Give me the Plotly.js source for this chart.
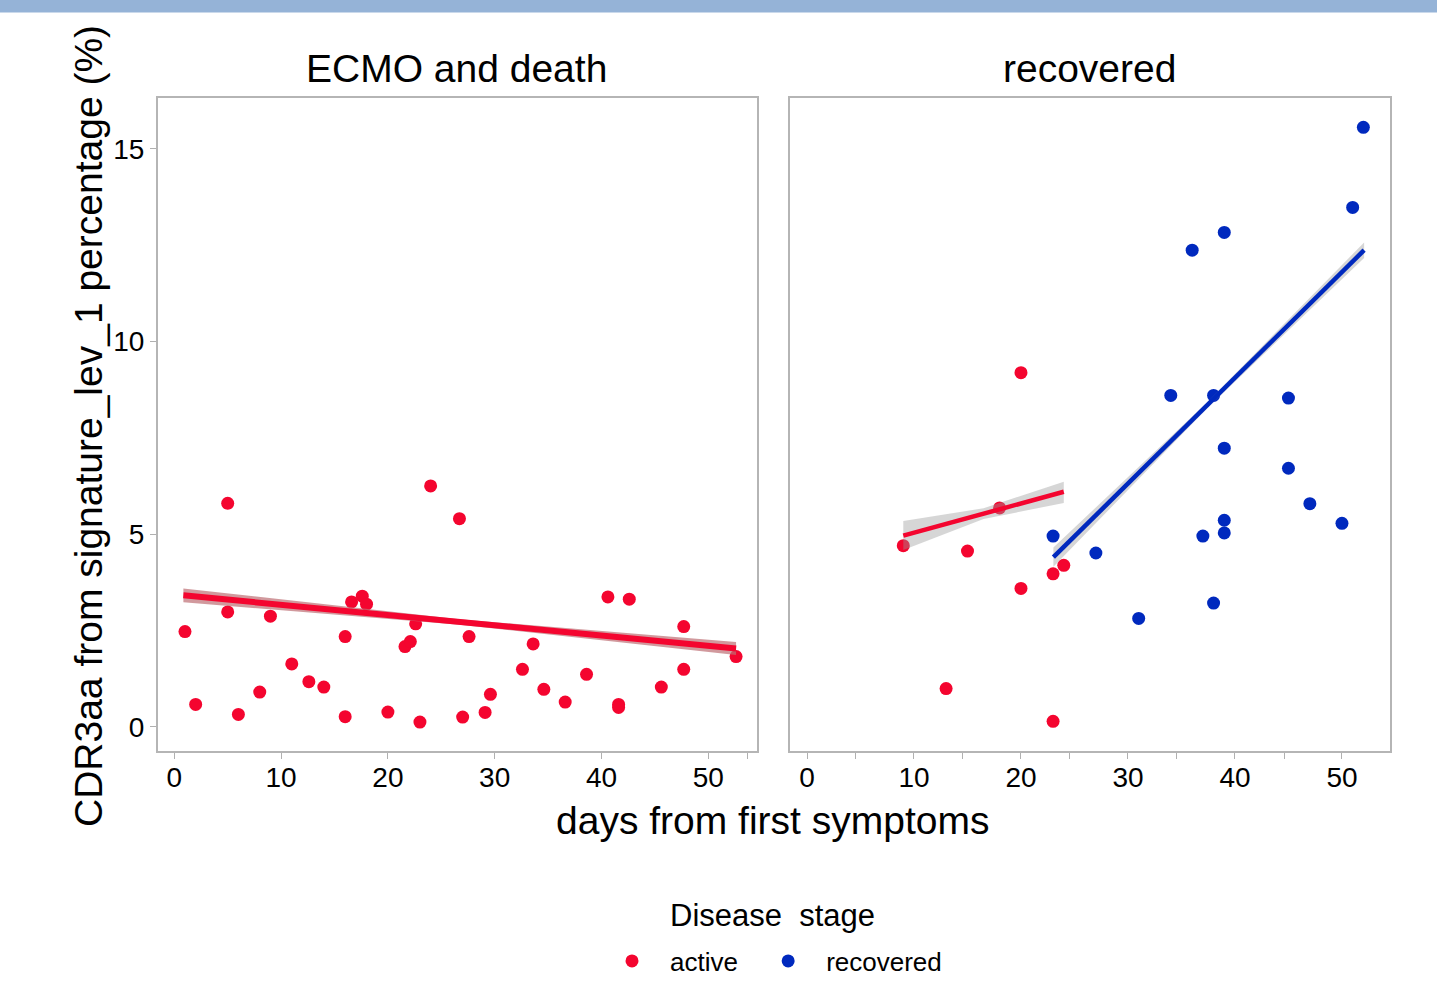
<!DOCTYPE html>
<html>
<head>
<meta charset="utf-8">
<script src="https://cdn.plot.ly/plotly-3.0.1.min.js"></script>
<style>
html,body{margin:0;padding:0;background:#fff;}
#chart{width:1437px;height:982px;}
</style>
</head>
<body>
<div id="chart"></div>
<script>
// ---------- data ----------
// Panel "ECMO and death" : all samples in active stage
const ecmoDays = [1.0, 2.0, 5.0, 5.0, 6.0, 8.0, 9.0, 11.0, 12.6, 14.0, 16.0, 16.0, 16.6, 17.6, 18.0, 20.0, 21.6, 22.1, 22.6, 23.0, 24.0, 26.7, 27.0, 27.6, 29.1, 29.6, 32.6, 33.6, 34.6, 36.6, 38.6, 40.6, 41.6, 41.6, 42.6, 45.6, 47.7, 47.7, 52.6];
const ecmoPct  = [2.47, 0.58, 5.80, 2.98, 0.32, 0.90, 2.87, 1.63, 1.17, 1.03, 2.34, 0.26, 3.24, 3.39, 3.18, 0.38, 2.08, 2.21, 2.67, 0.12, 6.25, 5.40, 0.25, 2.34, 0.37, 0.84, 1.49, 2.15, 0.97, 0.64, 1.36, 3.37, 0.58, 0.50, 3.31, 1.03, 2.60, 1.49, 1.82];

// Panel "recovered"
const recActiveDays = [9, 13, 15, 18, 20, 20, 23, 23, 24];
const recActivePct  = [4.70, 0.99, 4.56, 5.68, 9.19, 3.59, 3.97, 0.14, 4.19];
const recRecovDays  = [52, 51, 39, 36, 34, 38, 45, 39, 45, 47, 50, 39, 39, 37, 23, 27, 38, 31];
const recRecovPct   = [15.56, 13.48, 12.83, 12.37, 8.60, 8.60, 8.53, 7.23, 6.71, 5.79, 5.28, 5.36, 5.03, 4.95, 4.95, 4.51, 3.21, 2.81];

// Fitted trend lines with their confidence bands
const ecmoFitDays = [0.85, 26.7, 52.6];
const ecmoFitPct  = [3.41, 2.72, 2.03];
const ecmoFitLow  = [3.23, 2.65, 1.86];
const ecmoFitHigh = [3.59, 2.79, 2.20];

const recActFitDays = [9.0, 16.5, 24.0];
const recActFitPct  = [4.96, 5.53, 6.10];
const recActFitLow  = [4.59, 5.39, 5.81];
const recActFitHigh = [5.34, 5.67, 6.36];

const recRecFitDays = [23.03, 37.5, 52.07];
const recRecFitPct  = [4.40, 8.37, 12.37];
const recRecFitLow  = [4.15, 8.29, 12.17];
const recRecFitHigh = [4.65, 8.45, 12.57];

// Axis ticks
const yTicks = [0, 5, 10, 15];
const xTicksLeft = [0, 10, 20, 30, 40, 50, 53.7];
const xTextLeft  = ['0', '10', '20', '30', '40', '50', ''];
const xTicksRight = [0, 4.5, 10, 14.5, 20, 24.5, 30, 34.5, 40, 44.6, 50];
const xTextRight  = ['0', '', '10', '', '20', '', '30', '', '40', '', '50'];

const panelTitles = ['ECMO and death', 'recovered'];
const stageNames = ['active\u00a0', 'recovered'];
const legendTitle = 'Disease\u00a0 stage';

// ---------- styling ----------
const RED = '#F4052F';
const BLUE = '#0029BE';
const FONT = 'Liberation Sans, Arial, Helvetica, sans-serif';
const W = 1437, H = 982;

function pts(x, y, color, name, xa, ya, show) {
  return {type: 'scatter', mode: 'markers', x: x, y: y, xaxis: xa, yaxis: ya,
    name: name, legendgroup: name, showlegend: show,
    marker: {color: color, size: 13, line: {width: 0}}};
}
function band(x, lo, hi, fill, xa, ya) {
  return {type: 'scatter', mode: 'lines', xaxis: xa, yaxis: ya,
    x: x.concat(x.slice().reverse()), y: hi.concat(lo.slice().reverse()),
    fill: 'toself', fillcolor: fill, line: {width: 0}, showlegend: false, hoverinfo: 'skip'};
}
function fit(x, y, color, w, xa, ya) {
  return {type: 'scatter', mode: 'lines', x: x, y: y, xaxis: xa, yaxis: ya,
    line: {color: color, width: w}, showlegend: false, hoverinfo: 'skip'};
}

const traces = [
  pts(ecmoDays, ecmoPct, RED, stageNames[0], 'x', 'y', true),
  pts(recActiveDays, recActivePct, RED, stageNames[0], 'x2', 'y2', false),
  pts(recRecovDays, recRecovPct, BLUE, stageNames[1], 'x2', 'y2', true),
  band(ecmoFitDays, ecmoFitLow, ecmoFitHigh, 'rgba(190,110,115,0.7)', 'x', 'y'),
  band(recActFitDays, recActFitLow, recActFitHigh, 'rgba(153,153,153,0.4)', 'x2', 'y2'),
  band(recRecFitDays, recRecFitLow, recRecFitHigh, 'rgba(153,153,153,0.4)', 'x2', 'y2'),
  fit(ecmoFitDays, ecmoFitPct, RED, 6, 'x', 'y'),
  fit(recActFitDays, recActFitPct, RED, 4.5, 'x2', 'y2'),
  fit(recRecFitDays, recRecFitPct, BLUE, 4.5, 'x2', 'y2')
];

const yDom = [1 - 751 / H, 1 - 98 / H];
const axisCommon = {showline: true, mirror: true, linecolor: '#b5b5b5', linewidth: 2,
  showgrid: false, zeroline: false, ticks: 'outside', ticklen: 6, tickwidth: 1, tickcolor: '#b0b0b0',
  tickfont: {size: 28, color: '#000', family: FONT}, fixedrange: true};

const layout = {
  width: W, height: H,
  margin: {l: 0, r: 0, t: 0, b: 0, autoexpand: false},
  paper_bgcolor: '#fff', plot_bgcolor: '#fff',
  font: {family: FONT, color: '#000'},
  xaxis: Object.assign({}, axisCommon, {domain: [158 / W, 757 / W], range: [-1.526, 54.56],
    tickmode: 'array', tickvals: xTicksLeft, ticktext: xTextLeft, anchor: 'y', ticklabelstandoff: -6}),
  xaxis2: Object.assign({}, axisCommon, {domain: [790 / W, 1390 / W], range: [-1.589, 54.49],
    tickmode: 'array', tickvals: xTicksRight, ticktext: xTextRight, anchor: 'y2', ticklabelstandoff: -6}),
  yaxis: Object.assign({}, axisCommon, {domain: yDom, range: [-0.63, 16.32],
    tickmode: 'array', tickvals: yTicks, anchor: 'x'}),
  yaxis2: Object.assign({}, axisCommon, {domain: yDom, range: [-0.63, 16.32],
    showticklabels: false, ticks: '', anchor: 'x2'}),
  showlegend: true,
  legend: {orientation: 'h', x: 594 / W, xanchor: 'left', y: 1 - 961 / H, yanchor: 'middle',
    font: {size: 26, color: '#000', family: FONT}, itemwidth: 66, bgcolor: 'rgba(0,0,0,0)'},
  shapes: [{type: 'rect', xref: 'paper', yref: 'paper', x0: 0, x1: 1, y0: 1 - 12.5 / H, y1: 1,
    fillcolor: '#95B3D7', line: {width: 0}, layer: 'above'}],
  annotations: [
    {text: panelTitles[0], x: 457 / W, y: 1 - 69 / H, xref: 'paper', yref: 'paper', xanchor: 'center', yanchor: 'middle', showarrow: false, font: {size: 39, color: '#000', family: FONT}},
    {text: panelTitles[1], x: 1089 / W, y: 1 - 69 / H, xref: 'paper', yref: 'paper', xanchor: 'center', yanchor: 'middle', showarrow: false, font: {size: 39, color: '#000', family: FONT}},
    {text: 'days from first symptoms', x: 773 / W, y: 1 - 820 / H, xref: 'paper', yref: 'paper', xanchor: 'center', yanchor: 'middle', showarrow: false, font: {size: 39, color: '#000', family: FONT}},
    {text: 'CDR3aa from signature_lev_1 percentage (%)', x: 88 / W, y: 1 - 426 / H, xref: 'paper', yref: 'paper', xanchor: 'center', yanchor: 'middle', textangle: -90, showarrow: false, font: {size: 39, color: '#000', family: FONT}},
    {text: legendTitle, x: 773 / W, y: 1 - 915 / H, xref: 'paper', yref: 'paper', xanchor: 'center', yanchor: 'middle', showarrow: false, font: {size: 31, color: '#000', family: FONT}}
  ]
};

Plotly.newPlot('chart', traces, layout, {displayModeBar: false, responsive: false});
</script>
</body>
</html>
